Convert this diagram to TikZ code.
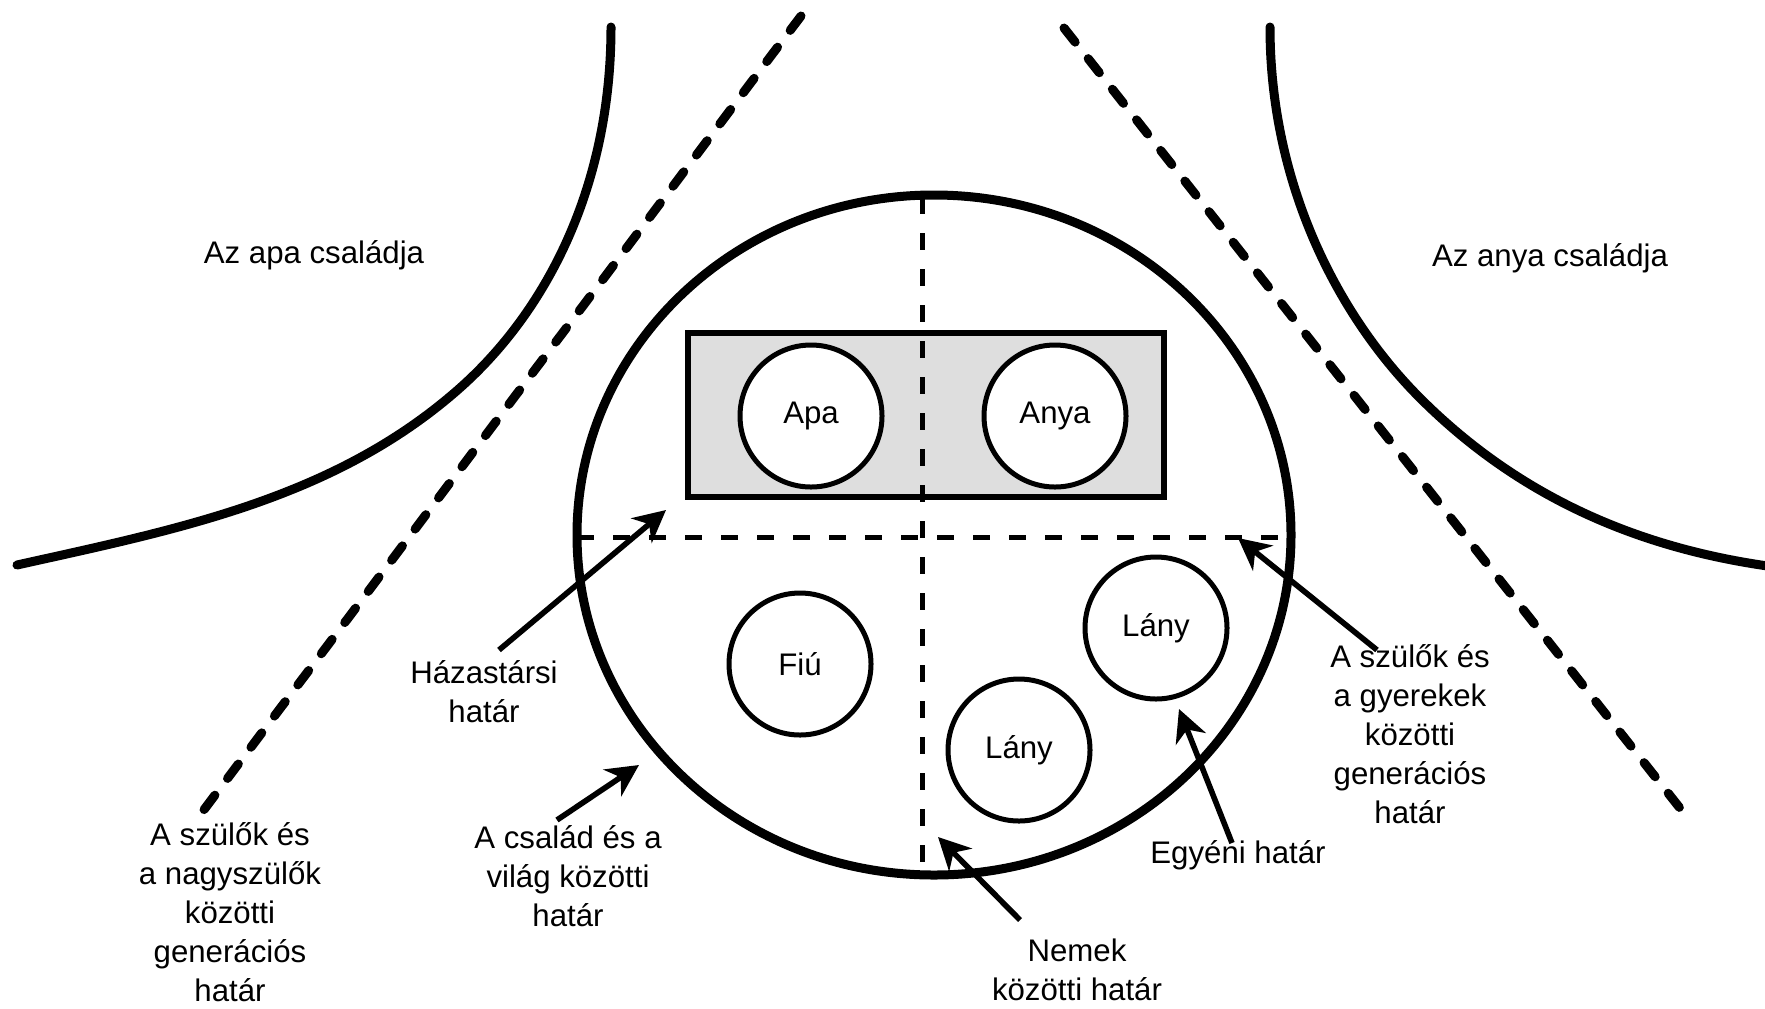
\documentclass[tikz,border=0pt]{standalone}
\usepackage{fontspec}
\setmainfont{Liberation Sans}
\usetikzlibrary{calc, arrows.meta, positioning}

\begin{document}
\begin{tikzpicture}[x=0.5pt, y=-0.5pt,
    lbl/.style={font=\fontsize{15.6}{19.5}\selectfont, align=center, inner sep=0pt},
    person/.style={circle, draw, line width=2.5pt, fill=white, minimum size=71pt, inner sep=0pt, font=\fontsize{15.6}{19.5}\selectfont},
    border/.style={line width=4.5pt, line cap=round},
    genline/.style={line width=4.5pt, line cap=round, dash pattern=on 9pt off 10.5pt},
    inline/.style={line width=2.5pt, dash pattern=on 8.5pt off 9.5pt},
    arr/.style={line width=2.8pt, -{Stealth[length=16pt, width=16pt, inset=5pt]}}
]
\useasboundingbox (0,0) rectangle (1765,1008);
\clip (0,0) rectangle (1765,1008);

% a két nagycsalád határa
\draw[border] (611,27) .. controls (611,187) and (546,315) .. (453,394)
                       .. controls (329,500) and (174,530) .. (17,565);
\draw[border] (1270,27) .. controls (1270,187) and (1340,318) .. (1420,398)
                        .. controls (1510,488) and (1625,547) .. (1775,567);

% generációs határok
\draw[genline] (801,16) -- (203,811);
\draw[genline] (1064,28) -- (1683,812);

% a család
\draw[border] (934,535) ellipse [x radius=357, y radius=340];
\draw[line width=3pt, fill=black!13] (688,333) rectangle (1164,497);

\draw[inline] (922,197) -- (922,872);
\draw[inline] (577,537) -- (1288,537);

\node[person] (apa) at (811,416) {Apa};
\node[person] (anya) at (1055,416) {Anya};
\node[person] (fiu) at (800,664) {Fiú};
\node[person] (lany1) at (1156,628) {Lány};
\node[person] (lany2) at (1019,750) {Lány};

% feliratok
\node[lbl] (apacsal) at (314,255) {Az apa családja};
\node[lbl] (anyacsal) at (1550,258) {Az anya családja};
\node[lbl] (hazas) at (484,692) {Házastársi\\határ};
\node[lbl] (nagyszulo) at (230,912) {A szülők és\\a nagyszülők\\közötti\\generációs\\határ};
\node[lbl] (csalad) at (568,876) {A család és a\\világ közötti\\határ};
\node[lbl] (nemek) at (1077,970) {Nemek\\közötti határ};
\node[lbl] (egyeni) at (1238,855) {Egyéni határ};
\node[lbl] (gyerek) at (1410,734) {A szülők és\\a gyerekek\\közötti\\generációs\\határ};

% nyilak
\coordinate (hazasTail) at (499,650);
\coordinate (hazasHead) at (666,510);
\coordinate (csaladTail) at (557,820);
\coordinate (csaladHead) at (639,765);
\coordinate (nemekTail) at (1020,920);
\coordinate (nemekHead) at (938,837);
\coordinate (egyeniTail) at (1232,843);
\coordinate (egyeniHead) at (1179,709);
\coordinate (gyerekTail) at (1377,650);
\coordinate (gyerekHead) at (1238,538);

\draw[arr] (hazasTail) -- (hazasHead);
\draw[arr] (csaladTail) -- (csaladHead);
\draw[arr] (nemekTail) -- (nemekHead);
\draw[arr] (egyeniTail) -- (egyeniHead);
\draw[arr] (gyerekTail) -- (gyerekHead);
\end{tikzpicture}
\end{document}
